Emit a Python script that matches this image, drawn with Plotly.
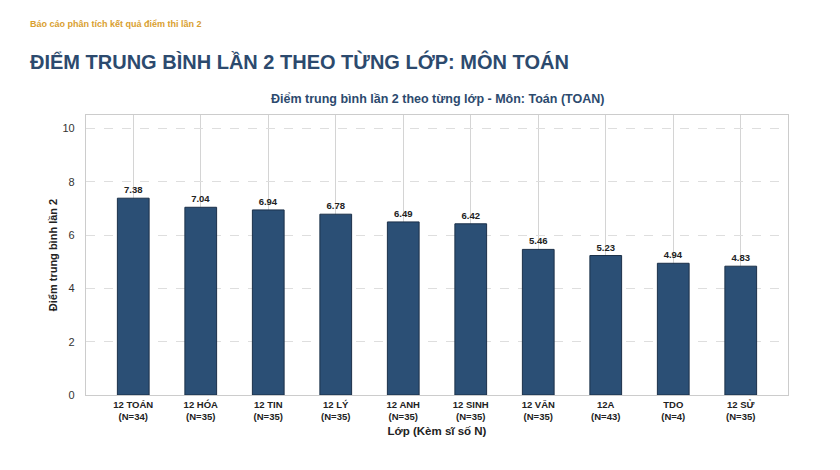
"""Điểm trung bình lần 2 theo từng lớp - Môn Toán."""

import plotly.graph_objects as go

CLASSES = ["12 TOÁN", "12 HÓA", "12 TIN", "12 LÝ", "12 ANH",
           "12 SINH", "12 VĂN", "12A", "TDO", "12 SỬ"]
COUNTS = [34, 35, 35, 35, 35, 35, 35, 43, 4, 35]
MEANS = [7.38, 7.04, 6.94, 6.78, 6.49, 6.42, 5.46, 5.23, 4.94, 4.83]
Y_TICKS = [0, 2, 4, 6, 8, 10]

FONT = "Liberation Sans, Arial, sans-serif"
NAVY = "#2b4f75"
TITLE_BLUE = "#2c4a6e"


def main():
    labels = [f"<b>{c}<br>(N={n})</b>" for c, n in zip(CLASSES, COUNTS)]

    fig = go.Figure()
    fig.add_trace(go.Bar(
        x=labels,
        y=MEANS,
        width=0.47,
        marker=dict(color=NAVY, line=dict(color="#1b3049", width=1)),
        text=[f"<b>{v:.2f}</b>" for v in MEANS],
        textposition="outside",
        textfont=dict(family=FONT, size=9.5, color="#222"),
        cliponaxis=False,
        hoverinfo="x+y",
    ))

    # page body has an 8px margin, so the figure is 16px smaller than the window
    fig.update_layout(
        width=824,
        height=454,
        margin=dict(l=78, r=44, t=107, b=67),
        paper_bgcolor="white",
        plot_bgcolor="white",
        showlegend=False,
        font=dict(family=FONT, color="#333"),
        title=dict(
            text="<b>ĐIỂM TRUNG BÌNH LẦN 2 THEO TỪNG LỚP: MÔN TOÁN</b>",
            xref="container", yref="container",
            x=0.0267, y=0.881, xanchor="left", yanchor="middle",
            font=dict(size=20, color=TITLE_BLUE, family=FONT),
        ),
        annotations=[
            dict(text="<b>Báo cáo phân tích kết quả điểm thi lần 2</b>",
                 xref="paper", yref="paper", x=-0.0825, y=1.325,
                 xanchor="left", yanchor="middle", showarrow=False,
                 font=dict(size=9, color="#d9a030", family=FONT)),
            dict(text="<b>Điểm trung bình lần 2 theo từng lớp - Môn: Toán (TOAN)</b>",
                 xref="paper", yref="paper", x=0.5, y=1.057,
                 xanchor="center", yanchor="middle", showarrow=False,
                 font=dict(size=12.5, color=TITLE_BLUE, family=FONT)),
        ],
    )
    fig.update_xaxes(
        range=[-0.7, 9.7],
        showgrid=True,
        gridcolor="#d4d4d4",
        gridwidth=1,
        showline=True,
        linecolor="#cccccc",
        linewidth=1.2,
        mirror=True,
        ticks="",
        tickfont=dict(size=9.5, color="#222", family=FONT),
        title=dict(text="<b>Lớp (Kèm sĩ số N)</b>", standoff=6,
                   font=dict(size=11.5, color="#222", family=FONT)),
    )
    fig.update_yaxes(
        range=[0, 10.5],
        tickvals=Y_TICKS,
        showgrid=True,
        gridcolor="#dedede",
        griddash="dash",
        gridwidth=1,
        zeroline=False,
        showline=True,
        linecolor="#cccccc",
        linewidth=1.2,
        mirror=True,
        ticks="",
        ticklabelstandoff=8,
        tickfont=dict(size=11, color="#333", family=FONT),
        title=dict(text="<b>Điểm trung bình lần 2</b>", standoff=2,
                   font=dict(size=11, color="#222", family=FONT)),
    )

    fig.write_html("out.html")


if __name__ == "__main__":
    main()
